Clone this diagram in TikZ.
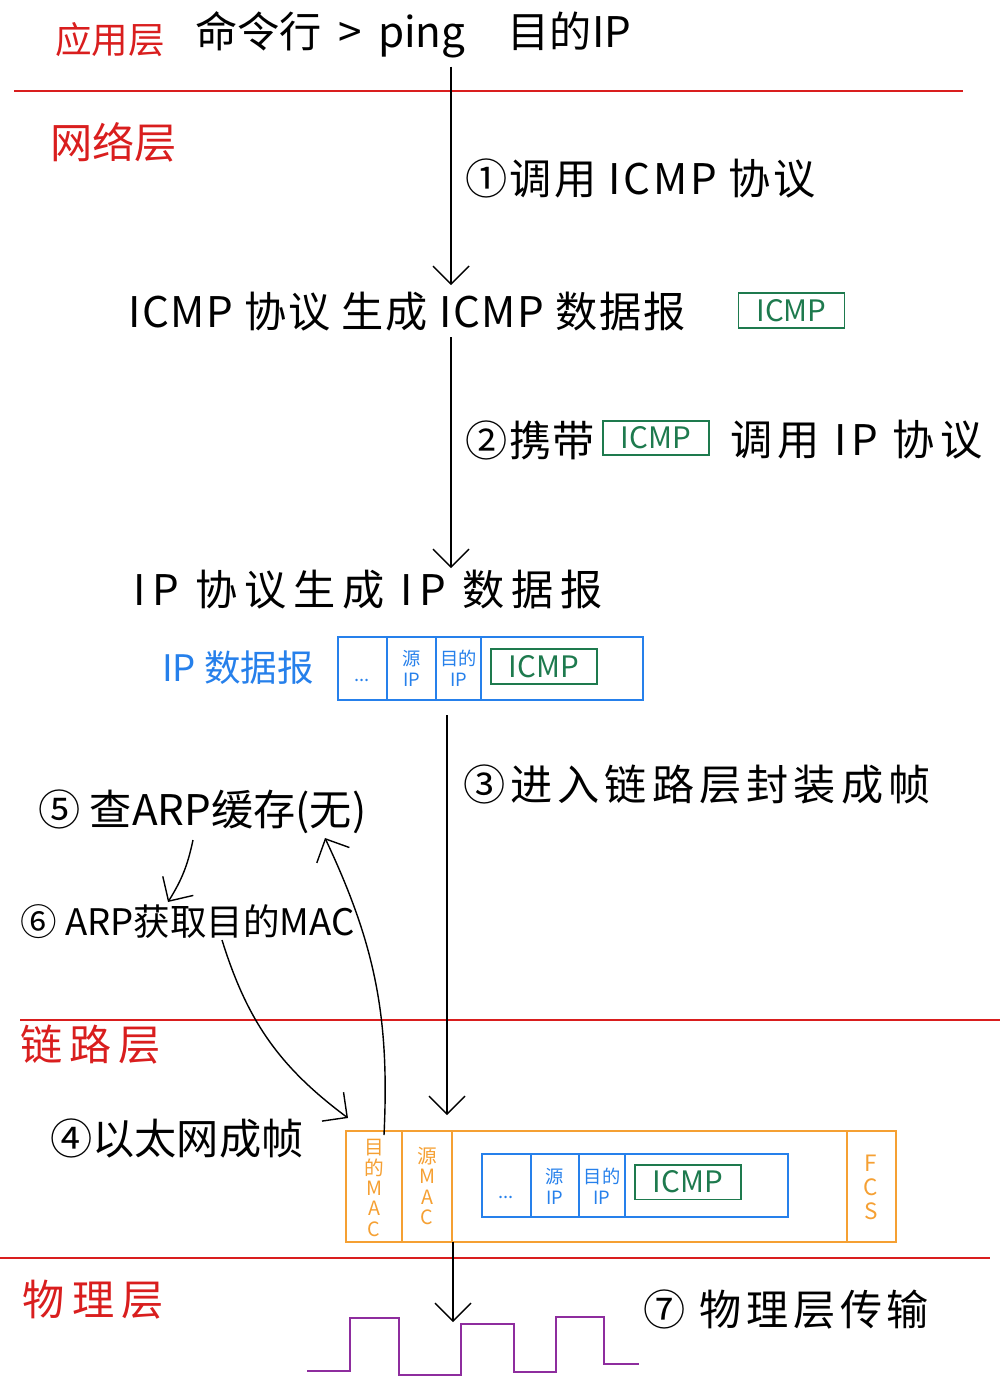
\documentclass[tikz,border=0pt]{standalone}
\usepackage{fontspec}
\setmainfont{Noto Sans CJK SC}
\usetikzlibrary{arrows.meta}
\definecolor{layerred}{HTML}{D91E1E}
\definecolor{pktblue}{HTML}{2680EB}
\definecolor{icmpgreen}{HTML}{1E7A4E}
\definecolor{frameorange}{HTML}{F5A033}
\definecolor{wavepurple}{HTML}{8E2D9E}

\begin{document}
\begin{tikzpicture}[
  x=0.025cm,y=-0.025cm,>={Straight Barb[length=4.5mm,width=9mm]},
  hand/.style={font=\fontsize{30}{34}\selectfont,anchor=west,inner sep=0pt},
  spread/.style={font={\fontsize{30}{34}\selectfont\addfontfeatures{LetterSpace=#1}}},
  layer/.style={hand,text=layerred},
  rule/.style={layerred,line width=1.3pt},
  flow/.style={->,line width=1pt},
  icmpbox/.style={draw=icmpgreen,line width=1.3pt,text=icmpgreen,
    font=\fontsize{21}{24}\selectfont,minimum width=2.65cm,minimum height=0.87cm,inner sep=0pt},
  pkt/.style={draw=pktblue,line width=1.3pt},
  cell/.style={font=\fontsize{13}{15}\selectfont,align=center,inner sep=0pt,text=pktblue},
  fcell/.style={font=\fontsize{14}{14.5}\selectfont,align=center,inner sep=0pt,text=frameorange}
]
\useasboundingbox (0,0) rectangle (1000,1376);

% layers
\node[layer,font=\fontsize{26}{30}\selectfont] (app) at (55,40) {应用层};
\node[layer] (net) at (50,142) {网络层};
\node[layer,spread=16] (link) at (20,1045) {链路层};
\node[layer,spread=18] (phy) at (22,1300) {物理层};
\draw[rule] (14,91) -- (963,91);
\draw[rule] (20,1020) -- (1000,1020);
\draw[rule] (0,1258) -- (990,1258);

% network layer
\node[hand] (cmd) at (195,35) {命令行 \,>\, ping\quad 目的IP};
\node[hand,spread=6] (step1) at (465,178) {①调用 ICMP 协议};
\node[hand,spread=4] (icmpgen) at (128,312) {ICMP 协议 生成 ICMP 数据报};
\node[icmpbox] (icmp1) at (791.5,310.5) {ICMP};
\node[hand,spread=4] (step2) at (465,440) {②携带};
\node[icmpbox] (icmp2) at (656,438) {ICMP};
\node[hand,spread=12] (step2b) at (730,440) {调用 IP 协议};
\node[hand,spread=16] (ipgen) at (133,590) {IP 协议生成 IP 数据报};
\node[hand,text=pktblue,font=\fontsize{26}{30}\selectfont] (ipname) at (162,668) {IP 数据报};

% ip packet
\draw[pkt] (338,637) rectangle (643,700);
\foreach \x in {387,436,481} {\draw[pkt] (\x,637) -- (\x,700);}
\node[cell] (dots1) at (362,680) {...};
\node[cell] (src1) at (411.5,668) {源\\IP};
\node[cell] (dst1) at (458.5,668) {目的\\IP};
\node[icmpbox] (icmp3) at (544,666.5) {ICMP};
\coordinate (pkt1) at (447,700);

% link layer
\node[hand,spread=12] (step3) at (463,785) {③进入链路层封装成帧};
\node[hand] (step5) at (38,812) {⑤ 查ARP缓存(无)};
\node[hand,font=\fontsize{26}{30}\selectfont] (step6) at (20,922) {⑥ ARP获取目的MAC};
\node[hand] (step4) at (50,1138) {④以太网成帧};

% ethernet frame
\draw[frameorange,line width=1.3pt] (346,1131) rectangle (896,1242);
\foreach \x in {402,452,847} {\draw[frameorange,line width=1.3pt] (\x,1131) -- (\x,1242);}
\node[fcell] (dmac) at (374,1188) {目\\的\\M\\A\\C};
\node[fcell] (smac) at (427,1186) {源\\M\\A\\C};
\node[fcell,font=\fontsize{16}{17}\selectfont] (fcs) at (871,1187) {F\\C\\S};
\draw[pkt] (482,1154) rectangle (788,1217);
\foreach \x in {531,579,625} {\draw[pkt] (\x,1154) -- (\x,1217);}
\node[cell] (dots2) at (506,1197) {...};
\node[cell] (src2) at (555,1186) {源\\IP};
\node[cell] (dst2) at (602,1186) {目的\\IP};
\node[icmpbox] (icmp4) at (688,1182) {ICMP};
\coordinate (framet) at (447,1131);
\coordinate (frameb) at (453,1242);
\coordinate (dmact) at (348,1118);
\coordinate (dmacs) at (384,1135);

% physical layer
\node[hand,spread=11] (step7) at (643,1310) {⑦ 物理层传输};
\draw[wavepurple,line width=1.3pt] (307,1371) -- (350,1371) -- (350,1318) -- (399,1318)
  -- (399,1375) -- (461,1375) -- (461,1324) -- (514,1324) -- (514,1372) -- (556,1372)
  -- (556,1317) -- (604,1317) -- (604,1364) -- (639,1364);
\coordinate (wave) at (453,1322);

% arrows
\draw[flow] (cmd.south -| 451,0) ++(0,8) -- (451,285);
\draw[flow] (451,337) -- (451,568);
\draw[flow] (pkt1) ++(0,15) -- (447,1115);
\draw[flow] (frameb) -- (wave);
\draw[flow] (193,840) to[bend left=10] (168,902);
\draw[flow] (222,940) to[bend right=18] (dmact);
\draw[flow] (dmacs) to[bend right=14] (325,838);
\end{tikzpicture}
\end{document}
